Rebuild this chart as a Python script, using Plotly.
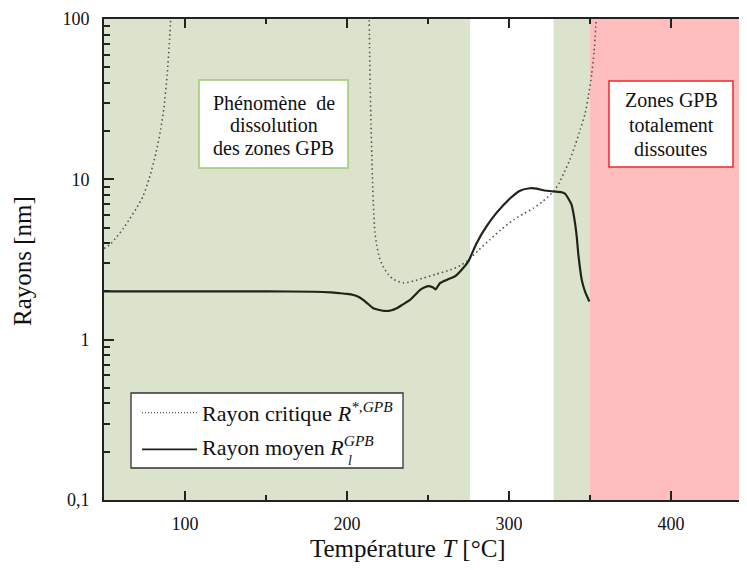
import plotly.graph_objects as go

# ---------------- data ----------------
# critical radius R*,GPB (dotted), two branches
T_crit_low = [50, 54, 58, 62, 66, 70, 74, 78, 82, 85, 87, 89, 90.5, 91.5]
R_crit_low = [3.7, 3.95, 4.4, 4.95, 5.7, 6.6, 7.8, 10.2, 14.5, 20.5, 28, 45, 75, 120]

T_crit_high = [213.6, 214.0, 214.4, 214.8, 215.3, 215.8, 216.4, 217.2, 218.3, 220.0, 222.4, 225.5,
               228.6, 234.8, 241, 247, 255, 263.6, 270, 275, 281, 288, 295, 302.7, 309, 315,
               321, 327.4, 331, 334, 337.5, 341, 344, 346.9, 349, 351, 352.5, 354]
R_crit_high = [120, 60, 35, 22, 14.5, 9.5, 6.6, 4.7, 3.9, 3.25, 2.85, 2.55,
               2.38, 2.26, 2.32, 2.42, 2.56, 2.72, 2.9, 3.14, 3.6, 4.19, 4.85, 5.58, 6.1, 6.6,
               7.3, 8.4, 9.5, 11, 13.2, 16.5, 20.5, 25.5, 33, 45, 62, 105]

# mean radius R_l^GPB (solid)
T_mean = [50, 100, 150, 180, 190, 195.2, 200, 203.9, 207, 210, 213, 216.2, 220, 223.5, 227, 230.7,
          234.5, 238.9, 242, 245, 248, 250.2, 252.9, 254.7, 256, 257.4, 261.5, 266.6, 270.8, 274.9,
          280, 286.2, 292.4, 300.6, 306.8, 313, 317, 321.2, 327.4, 332.5, 334.8, 336.6, 338.5, 339.7,
          340.8, 341.8, 342.8, 343.9, 344.9, 346.9, 349.6]
R_mean = [2.0, 2.0, 2.0, 1.99, 1.97, 1.95, 1.93, 1.9, 1.85, 1.77, 1.67, 1.57, 1.53, 1.51, 1.52, 1.57,
          1.66, 1.77, 1.9, 2.04, 2.12, 2.16, 2.12, 2.06, 2.15, 2.25, 2.36, 2.48, 2.73, 3.08,
          4.0, 5.1, 6.2, 7.6, 8.5, 8.8, 8.75, 8.55, 8.4, 8.3, 8.1, 7.6, 7.0, 6.2,
          5.3, 4.4, 3.4, 2.75, 2.36, 2.0, 1.73]

# temperature zones (°C)
zone_green_1 = (50, 276)
zone_green_2 = (327.5, 350)
zone_red = (350, 450)

x_ticks = [100, 200, 300, 400]
y_tickvals = [0.1, 1, 10, 100]
y_ticktext = ["0,1", "1", "10", "100"]
y_minor = [v * m for m in (0.1, 1, 10) for v in range(2, 10)]

# ---------------- layout geometry ----------------
# the page body has an 8px margin, so the figure is drawn 8px right/down
OFF = 8
W, H = 747 - OFF, 570 - OFF
L, R_, T_, B_ = 104, 747, 19, 500  # plot area in page pixels


def px(x):
    return (x - L) / (R_ - L)


def py(y):
    return (B_ - y) / (B_ - T_)


FONT = "Liberation Serif"
GREEN = "rgb(220,227,205)"
RED = "rgb(255,190,190)"

fig = go.Figure()

fig.add_trace(go.Scatter(x=T_crit_low, y=R_crit_low, mode="lines",
                         line=dict(color="#555555", width=1.6, dash="1.5px,3px", shape="spline", smoothing=0.6),
                         showlegend=False, hoverinfo="skip"))
fig.add_trace(go.Scatter(x=T_crit_high, y=R_crit_high, mode="lines",
                         line=dict(color="#555555", width=1.6, dash="1.5px,3px", shape="spline", smoothing=0.6),
                         showlegend=False, hoverinfo="skip"))
fig.add_trace(go.Scatter(x=T_mean, y=R_mean, mode="lines",
                         line=dict(color="#1e2418", width=2.2, shape="spline", smoothing=0.6),
                         showlegend=False, hoverinfo="skip"))

shapes = []
for (a, b), col in ((zone_green_1, GREEN), (zone_green_2, GREEN), (zone_red, RED)):
    shapes.append(dict(type="rect", xref="x", yref="paper", x0=a, x1=b, y0=0, y1=1,
                       fillcolor=col, line=dict(width=0), layer="below"))

# text boxes
shapes.append(dict(type="rect", xref="paper", yref="paper", x0=px(199), x1=px(348), y0=py(168), y1=py(80),
                   fillcolor="white", line=dict(color="rgb(160,200,110)", width=1.5)))
shapes.append(dict(type="rect", xref="paper", yref="paper", x0=px(609), x1=px(733), y0=py(167), y1=py(81),
                   fillcolor="white", line=dict(color="rgb(240,40,40)", width=1.5)))
# legend box
shapes.append(dict(type="rect", xref="paper", yref="paper", x0=px(131), x1=px(403), y0=py(468), y1=py(393),
                   fillcolor="white", line=dict(color="#333333", width=1.3)))
shapes.append(dict(type="line", xref="paper", yref="paper", x0=px(142), x1=px(197), y0=py(412.7), y1=py(412.7),
                   line=dict(color="#555555", width=1.3, dash="1px,2px")))
shapes.append(dict(type="line", xref="paper", yref="paper", x0=px(142), x1=px(197), y0=py(449.3), y1=py(449.3),
                   line=dict(color="#1e2418", width=1.8)))

ann = []


def txt(x, y, s, size, xanchor="center", yanchor="middle", angle=0):
    ann.append(dict(xref="paper", yref="paper", x=x, y=y, text=s, showarrow=False, textangle=angle,
                    font=dict(family=FONT, size=size, color="#111111"),
                    xanchor=xanchor, yanchor=yanchor))


for s, yy in (("Phénomène  de", 103), ("dissolution", 125.5), ("des zones GPB", 148)):
    txt(px(273.5), py(yy), s, 20)
for s, yy in (("Zones GPB", 100), ("totalement", 125), ("dissoutes", 149)):
    txt(px(671), py(yy), s, 20)

txt(px(200), py(412), "Rayon critique <i>R</i><sup><i>*,GPB</i></sup>", 22, xanchor="left")
txt(px(200), py(446), "Rayon moyen <i>R</i><sup><i>GPB</i></sup>", 22, xanchor="left")
txt(px(346), py(461), "<i>l</i>", 14, xanchor="left")

# axis titles
txt(px(408), py(548), "Température <i>T</i> [°C]", 25)
txt(px(23), py(261), "Rayons [nm]", 25, angle=-90)

tickfont = dict(family=FONT, size=18, color="#111111")

fig.update_layout(
    width=W, height=H,
    margin=dict(l=L - OFF, r=0, t=T_ - OFF, b=H - (B_ - OFF), pad=0),
    paper_bgcolor="white", plot_bgcolor="white",
    shapes=shapes, annotations=ann,
    xaxis=dict(range=[50, 50 + (R_ - L) / 1.62], tickvals=x_ticks, ticks="inside", ticklen=9, tickwidth=1.5,
               tickcolor="#222222", showline=True, linecolor="#222222", linewidth=2, mirror="ticks",
               showgrid=False, zeroline=False, tickfont=tickfont, ticklabelstandoff=6,
               minor=dict(tickvals=[150, 250, 350], ticks="inside", ticklen=5, tickwidth=1.5, tickcolor="#222222")),
    yaxis=dict(type="log", range=[-1, 2], tickvals=y_tickvals, ticktext=y_ticktext, ticks="inside", ticklen=10,
               tickwidth=1.5, tickcolor="#222222", showline=True, linecolor="#222222", linewidth=2,
               showgrid=False, zeroline=False, tickfont=tickfont, ticklabelstandoff=9,
               minor=dict(tickvals=y_minor, ticks="inside", ticklen=6, tickwidth=1.5, tickcolor="#222222")),
    yaxis2=dict(type="log", range=[-1, 2], overlaying="y", side="right", anchor="x", tickvals=y_tickvals,
                ticks="inside", ticklen=10, tickwidth=1.5, tickcolor="#222222", showticklabels=False,
                showline=False, showgrid=False, zeroline=False,
                minor=dict(tickvals=y_minor, ticks="inside", ticklen=6, tickwidth=1.5, tickcolor="#222222")),
)

fig.write_html("out.html")
